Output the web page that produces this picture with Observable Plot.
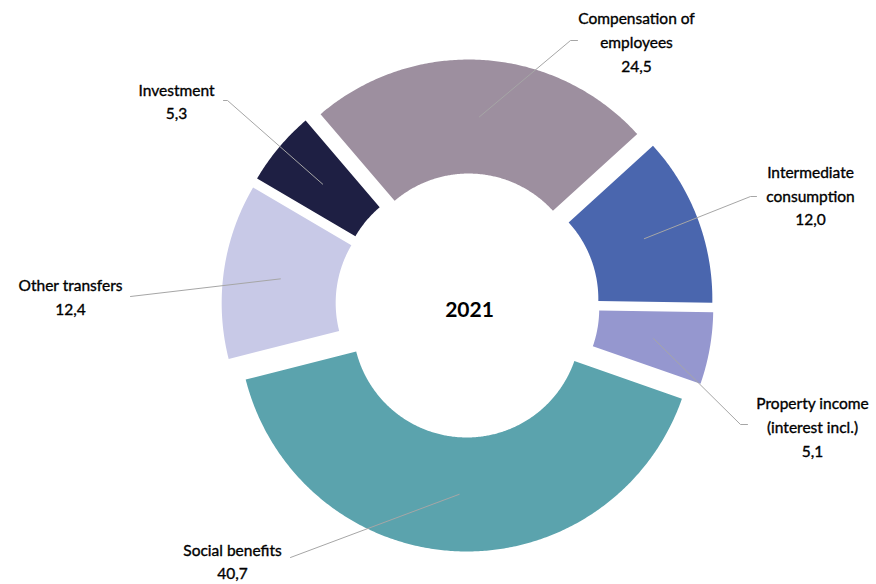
<!DOCTYPE html>
<html><head><meta charset="utf-8">
<script src="https://cdn.jsdelivr.net/npm/d3@7"></script>
<script src="https://cdn.jsdelivr.net/npm/@observablehq/plot@0.6"></script>
<style>body{margin:0;background:#fff;} svg{display:block;}</style>
</head><body><div id="chart"></div>
<script>
// ---- data ----
const categories = ["Compensation of employees","Intermediate consumption","Property income (interest incl.)","Social benefits","Other transfers","Investment"];
const labelTexts = ["Compensation of\nemployees","Intermediate\nconsumption","Property income\n(interest incl.)","Social benefits","Other transfers","Investment"];
const values = [24.5, 12.0, 5.1, 40.7, 12.4, 5.3];
const colors = ["#9d8f9f","#4a66ae","#9597cf","#5ba3ad","#c8c9e7","#1e1f43"];
const centerTitle = "2021";

// ---- layout ----
const W = 876, H = 584, cx = 467, cy = 305, r0 = 114, r1 = 228, explode = 18, startDeg = -40.5;
const labelPos = [[636,42.5],[810,196],[812,427.5],[232,562],[70,297.5],[176,102]];
const leaderEnds = [[[570,40],[577,40]], [[750,196],[756,196]], [[740,424],[747,424]], [[290,557]], [[130,296]], [[227,100],[223,100]]];

const a0 = startDeg * Math.PI / 180;
const arcs = d3.pie().sort(null).startAngle(a0).endAngle(a0 + 2 * Math.PI)(values);

const slicePts = [];
const leaderPts = [];
arcs.forEach((a, i) => {
  const mid = (a.startAngle + a.endAngle) / 2;
  const ox = cx + explode * Math.sin(mid), oy = cy - explode * Math.cos(mid);
  const n = Math.max(8, Math.ceil((a.endAngle - a.startAngle) * 180 / Math.PI * 2));
  for (let k = 0; k <= n; k++) {
    const t = a.startAngle + (a.endAngle - a.startAngle) * k / n;
    slicePts.push({name: categories[i], x: ox + r1 * Math.sin(t), y: oy - r1 * Math.cos(t)});
  }
  for (let k = n; k >= 0; k--) {
    const t = a.startAngle + (a.endAngle - a.startAngle) * k / n;
    slicePts.push({name: categories[i], x: ox + r0 * Math.sin(t), y: oy - r0 * Math.cos(t)});
  }
  const rm = (r0 + r1) / 2;
  leaderPts.push({name: categories[i], x: ox + rm * Math.sin(mid), y: oy - rm * Math.cos(mid)});
  leaderEnds[i].forEach(p => leaderPts.push({name: categories[i], x: p[0], y: p[1]}));
});

const labels = categories.map((c, i) => ({
  name: c,
  x: labelPos[i][0], y: labelPos[i][1],
  text: labelTexts[i] + "\n" + values[i].toFixed(1).replace(".", ",")
}));

const chart = Plot.plot({
  width: W, height: H,
  marginTop: 0, marginRight: 0, marginBottom: 0, marginLeft: 0,
  x: {domain: [0, W], range: [0, W], axis: null},
  y: {domain: [0, H], range: [0, H], axis: null},
  color: {domain: categories, range: colors},
  style: {fontFamily: "Lato, 'Open Sans', sans-serif", background: "#fff"},
  marks: [
    Plot.line(slicePts, {x: "x", y: "y", z: "name", fill: "name", stroke: "none", curve: "linear"}),
    Plot.line(leaderPts, {x: "x", y: "y", z: "name", stroke: "#a6a6a6", strokeWidth: 1}),
    Plot.text(labels, {x: "x", y: "y", dy: -2.5, text: "text", fontSize: 15.5, lineHeight: 1.52, fill: "#000", stroke: "#000", strokeWidth: 0.35}),
    Plot.text([centerTitle], {x: () => cx + 2, y: () => cy + 5, text: d => d, fontSize: 21, fontWeight: "bold", fill: "#000"})
  ]
});
document.getElementById("chart").appendChild(chart);
</script>
</body></html>
